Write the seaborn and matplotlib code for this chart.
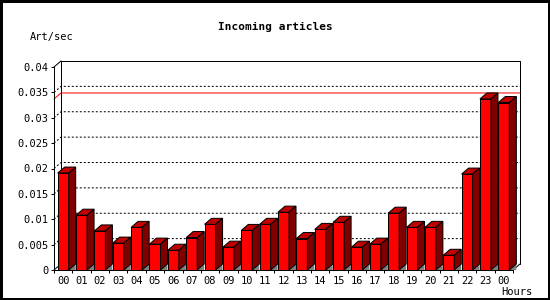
import numpy as np
import pandas as pd
import matplotlib
matplotlib.use("Agg")
import matplotlib.pyplot as plt
from matplotlib.patches import Polygon
from matplotlib.lines import Line2D
import seaborn as sns

# ---- data ----
hours = ["00", "01", "02", "03", "04", "05", "06", "07", "08", "09", "10", "11",
         "12", "13", "14", "15", "16", "17", "18", "19", "20", "21", "22", "23", "00"]
rates = [0.0191, 0.0108, 0.0077, 0.0053, 0.0084, 0.0051, 0.0039, 0.0064, 0.0090,
         0.0045, 0.0078, 0.0090, 0.0114, 0.0062, 0.0080, 0.0094, 0.0045, 0.0051,
         0.0112, 0.0084, 0.0084, 0.0029, 0.0189, 0.0337, 0.0330]
y_ticks = [0, 0.005, 0.01, 0.015, 0.02, 0.025, 0.03, 0.035, 0.04]
y_tick_labels = ["0", "0.005", "0.01", "0.015", "0.02", "0.025", "0.03", "0.035", "0.04"]
title = "Incoming articles"
y_label = "Art/sec"
x_label = "Hours"

sns.set_style("white")
plt.rcParams['font.family'] = ['DejaVu Sans Mono', 'DejaVu Sans']

W, H, DPI = 550, 300, 100
fig = plt.figure(figsize=(W / DPI, H / DPI), dpi=DPI)
fig.patch.set_facecolor("white")
fig.patch.set_edgecolor("black")
fig.patch.set_linewidth(2.5)

# front axes rectangle in pixels
L, R, T, B = 54, 513, 67, 270
ax = fig.add_axes([L / W, (H - B) / H, (R - L) / W, (B - T) / H])
ax.set_facecolor("none")

df = pd.DataFrame({"slot": list(range(len(hours))), "rate": rates})
sns.barplot(data=df, x="slot", y="rate", color="#ff0000", saturation=1,
            width=0.6, edgecolor="black", linewidth=0.72, ax=ax, zorder=3)

xmin, xmax = -0.5, len(hours) - 0.5
ymin, ymax = 0, 0.04
ax.set_xlim(xmin, xmax)
ax.set_ylim(ymin, ymax)

# 3D depth (pixels -> data)
dpx, dpy = 7, 6
dx = dpx * (xmax - xmin) / (R - L)
dy = dpy * (ymax - ymin) / (B - T)

lw = 0.72
# back frame
frame_kw = dict(color="black", lw=lw, clip_on=False, zorder=2)
ax.add_line(Line2D([xmin + dx, xmax + dx], [ymax + dy, ymax + dy], **frame_kw))
ax.add_line(Line2D([xmax + dx, xmax + dx], [ymin + dy, ymax + dy], **frame_kw))
ax.add_line(Line2D([xmin + dx, xmin + dx], [ymin + dy, ymax + dy], **frame_kw))
ax.add_line(Line2D([xmin, xmin + dx], [ymax, ymax + dy], **frame_kw))
ax.add_line(Line2D([xmax, xmax + dx], [ymin, ymin + dy], **frame_kw))
ax.add_line(Line2D([xmin, xmin + dx], [ymin, ymin + dy], **frame_kw))

# dotted grid in back plane
for yv in y_ticks[1:-1]:
    ax.add_line(Line2D([xmin, xmin + dx, xmax + dx], [yv, yv + dy, yv + dy],
                       color="black", lw=lw, ls=(0, (2, 2)), clip_on=False, zorder=1))

# red max line
mx = max(rates)
ax.add_line(Line2D([xmin, xmin + dx, xmax + dx], [mx, mx + dy, mx + dy],
                   color="#ff0000", lw=lw, clip_on=False, zorder=1.5))

# 3D faces for bars
for p in list(ax.patches):
    x0, w, h = p.get_x(), p.get_width(), p.get_height()
    x1 = x0 + w
    shadow = Polygon([(x1, 0), (x1 + dx, dy), (x1 + dx, 0)], closed=True,
                     facecolor="#808080", edgecolor="none", clip_on=False, zorder=2.5)
    top = Polygon([(x0, h), (x0 + dx, h + dy), (x1 + dx, h + dy), (x1, h)], closed=True,
                  facecolor="#c00000", edgecolor="black", lw=lw, clip_on=False, zorder=3)
    side = Polygon([(x1, 0), (x1, h), (x1 + dx, h + dy), (x1 + dx, dy)], closed=True,
                   facecolor="#800000", edgecolor="black", lw=lw, clip_on=False, zorder=3)
    ax.add_patch(shadow)
    ax.add_patch(top)
    ax.add_patch(side)

# spines
for s in ["top", "right"]:
    ax.spines[s].set_visible(False)
for s in ["left", "bottom"]:
    ax.spines[s].set_color("black")
    ax.spines[s].set_linewidth(lw)
    ax.spines[s].set_zorder(4)

# ticks
ax.set_yticks(y_ticks)
ax.set_yticklabels(y_tick_labels, fontsize=7.5)
ax.set_xticks(np.arange(xmin, xmax + 0.01, 1.0))
ax.set_xticklabels([])
ax.set_xticks(np.arange(len(hours)), minor=True)
ax.set_xticklabels(hours, minor=True, fontsize=7.5)
ax.tick_params(axis="both", which="major", direction="out", length=2.2, width=lw,
               color="black", pad=2, labelcolor="black")
ax.tick_params(axis="x", which="minor", length=0, pad=4, labelcolor="black")
ax.tick_params(axis="x", which="major", bottom=True)
ax.tick_params(axis="y", left=True)
ax.set_xlabel("")
ax.set_ylabel("")

fig.text(275 / W, 1 - 27 / H, title, ha="center", va="center",
         fontsize=8, fontweight="bold", color="black")
fig.text(30 / W, 1 - 37 / H, y_label, ha="left", va="center", fontsize=7.5, color="black")
fig.text(533 / W, 1 - 292 / H, x_label, ha="right", va="center", fontsize=7.5, color="black")

fig.savefig("out.png", dpi=DPI)
